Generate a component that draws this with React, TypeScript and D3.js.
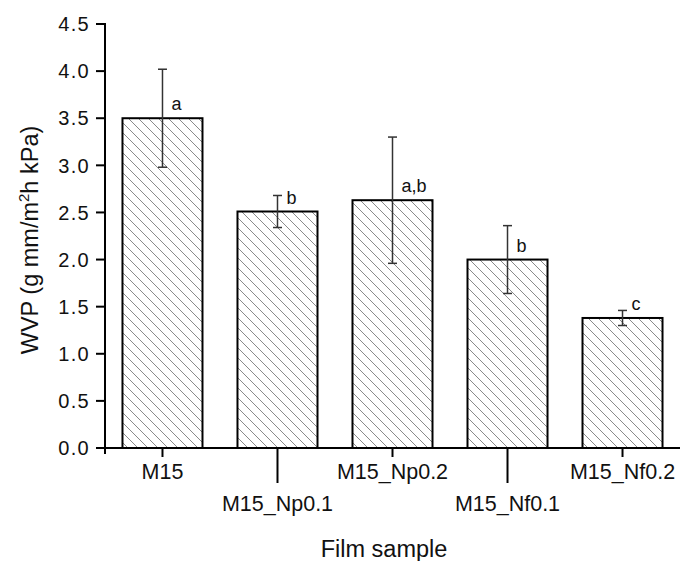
import React from "react";
import * as d3 from "d3";

const categories = ["M15", "M15_Np0.1", "M15_Np0.2", "M15_Nf0.1", "M15_Nf0.2"];
const values = [3.5, 2.51, 2.63, 2.0, 1.38];
const errors = [0.52, 0.17, 0.67, 0.36, 0.08];
const letters = ["a", "b", "a,b", "b", "c"];
const yTicks = [0, 0.5, 1.0, 1.5, 2.0, 2.5, 3.0, 3.5, 4.0, 4.5];

const W = 684;
const H = 561;
const left = 105;
const right = 680;
const top = 24;
const bottom = 448;

export default function App() {
  const x = d3.scaleBand<string>().domain(categories).range([left, right]).paddingInner(0.3043).paddingOuter(0.152);
  const y = d3.scaleLinear().domain([0, 4.5]).range([bottom, top]);
  const bw = x.bandwidth();
  const font = "Arial, 'Liberation Sans', sans-serif";

  return (
    <svg width={W} height={H} style={{ position: "absolute", left: 0, top: 0, background: "#fff" }}>
      <defs>
        <pattern id="hatch" patternUnits="userSpaceOnUse" width={10} height={10}>
          <path d="M-2,-2 L12,12 M-2,8 L2,12 M8,-2 L12,2" stroke="#8a8a8a" strokeWidth={1} />
        </pattern>
      </defs>
      <rect x={0} y={0} width={W} height={H} fill="#fff" />
      {categories.map((c, i) => {
        const x0 = x(c)!;
        const cx = x0 + bw / 2;
        const yv = y(values[i]);
        const yt = y(values[i] + errors[i]);
        const yb = y(values[i] - errors[i]);
        return (
          <g key={c}>
            <rect x={x0} y={yv} width={bw} height={bottom - yv} fill="url(#hatch)" stroke="#000" strokeWidth={2} />
            <line x1={cx} x2={cx} y1={yt} y2={yb} stroke="#333" strokeWidth={1.5} />
            <line x1={cx - 4.5} x2={cx + 4.5} y1={yt} y2={yt} stroke="#333" strokeWidth={1.5} />
            <line x1={cx - 4.5} x2={cx + 4.5} y1={yb} y2={yb} stroke="#333" strokeWidth={1.5} />
            <text x={cx + 9} y={yv - 8} fontSize={18} fontFamily={font} fill="#111">
              {letters[i]}
            </text>
          </g>
        );
      })}
      {/* axes */}
      <line x1={left} x2={left} y1={top - 1} y2={bottom + 6} stroke="#000" strokeWidth={2} />
      <line x1={left - 1} x2={right} y1={bottom} y2={bottom} stroke="#000" strokeWidth={2} />
      {yTicks.map((t) => (
        <g key={t}>
          <line x1={left - 9} x2={left} y1={y(t)} y2={y(t)} stroke="#000" strokeWidth={2} />
          <text
            x={90}
            y={y(t)}
            dy="0.36em"
            textAnchor="end"
            fontSize={20}
            letterSpacing={1.3}
            fontFamily={font}
            fill="#111"
          >
            {t.toFixed(1)}
          </text>
        </g>
      ))}
      {categories.map((c, i) => {
        const cx = x(c)! + bw / 2;
        const low = i % 2 === 1;
        return (
          <g key={"t" + c}>
            <line x1={cx} x2={cx} y1={bottom} y2={low ? 483 : 457} stroke="#000" strokeWidth={2} />
            <text x={cx} y={low ? 511 : 479} textAnchor="middle" fontSize={21.5} fontFamily={font} fill="#111">
              {c}
            </text>
          </g>
        );
      })}
      <text x={384} y={557} textAnchor="middle" fontSize={23.5} fontFamily={font} fill="#111">
        Film sample
      </text>
      <text
        transform={`translate(38,240) rotate(-90)`}
        textAnchor="middle"
        fontSize={23.5}
        fontFamily={font}
        fill="#111"
      >
        WVP (g mm/m
        <tspan fontSize={15} dy={-9}>2</tspan>
        <tspan dy={9}>h kPa)</tspan>
      </text>
    </svg>
  );
}
